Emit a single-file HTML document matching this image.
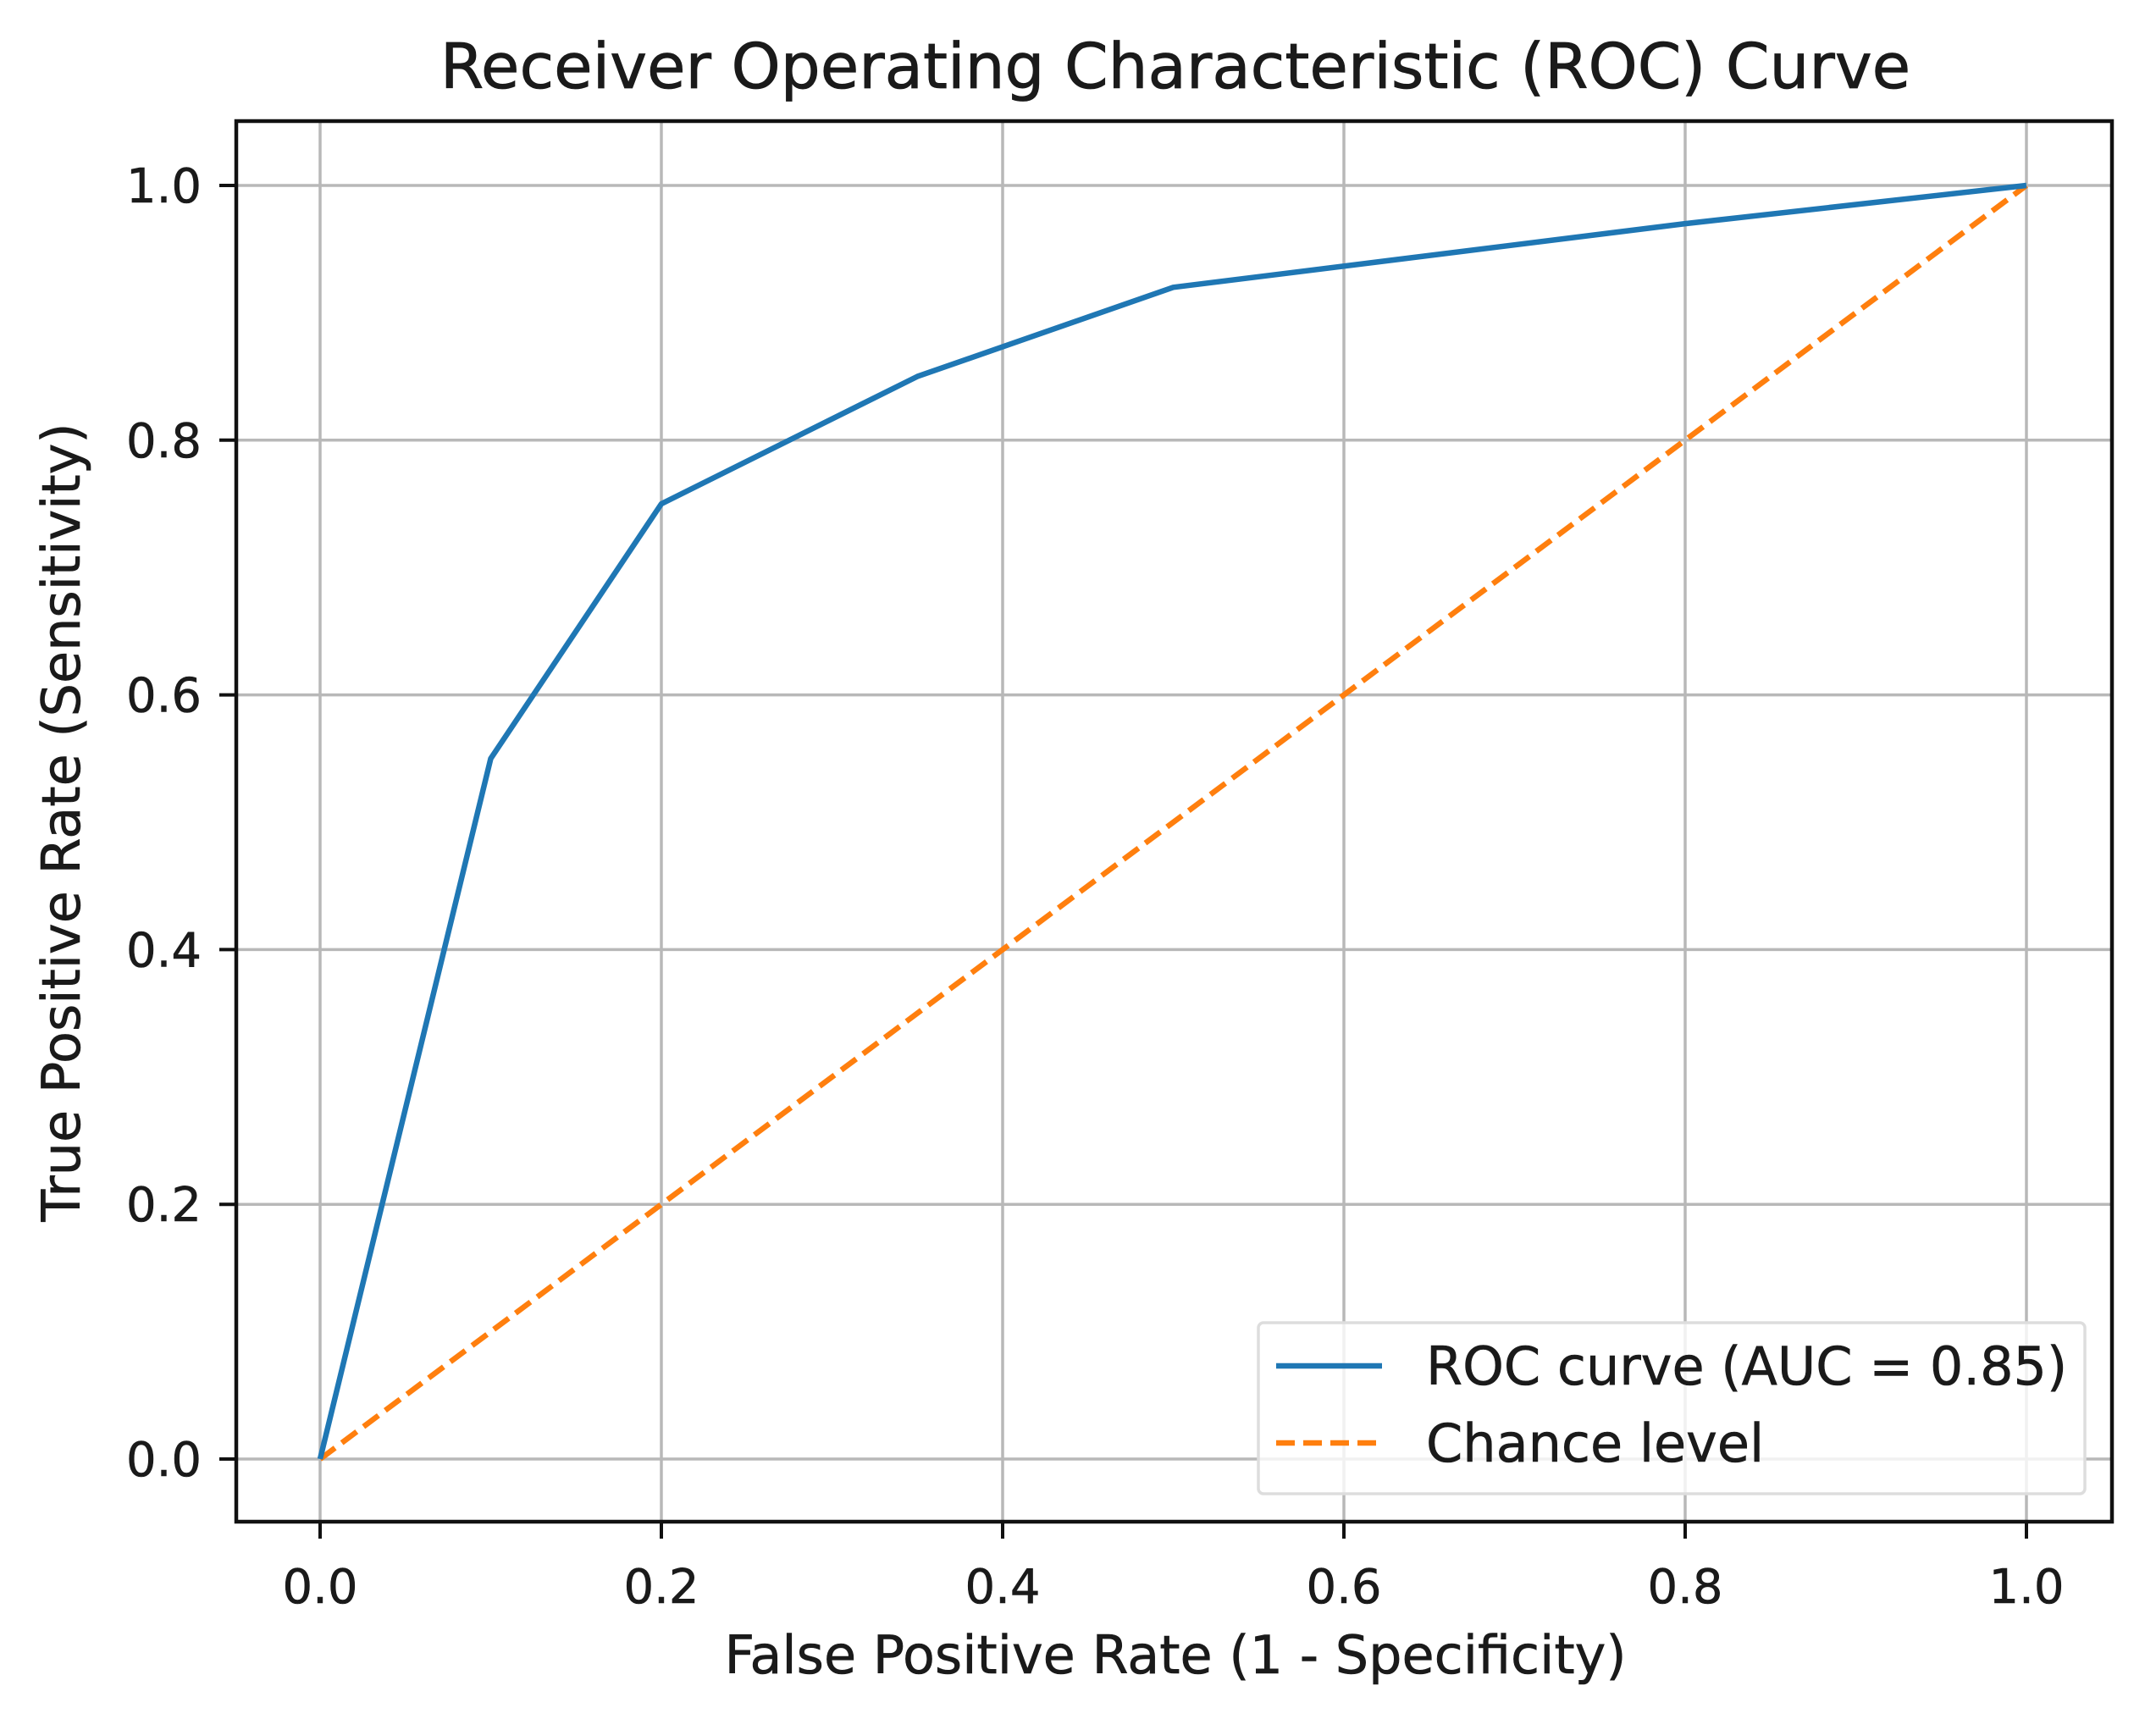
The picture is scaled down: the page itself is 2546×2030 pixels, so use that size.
<!DOCTYPE html>
<html><head><meta charset="utf-8"><style>
html,body{margin:0;padding:0;background:#fff;}
svg{display:block;font-family:"DejaVu Sans","Liberation Sans",sans-serif;}
</style></head><body>
<svg id="chart" width="2546" height="2030" viewBox="0 0 2546 2030" xmlns="http://www.w3.org/2000/svg">
<rect x="0" y="0" width="2546" height="2030" fill="#fff"/>
<text x="1388" y="104" font-size="74" text-anchor="middle" fill="#1a1a1a" stroke="#1a1a1a" stroke-width="0.8">Receiver Operating Characteristic (ROC) Curve</text>
<g id="grid"></g>
<g id="series"></g>
<rect x="279" y="143" width="2215" height="1654" fill="none" stroke="#111" stroke-width="4.5"/>
<g id="ticks"></g>
<text x="1388" y="1976" font-size="62" text-anchor="middle" fill="#1a1a1a" stroke="#1a1a1a" stroke-width="0.6">False Positive Rate (1 - Specificity)</text>
<text x="0" y="0" font-size="62" text-anchor="middle" fill="#1a1a1a" stroke="#1a1a1a" stroke-width="0.6" transform="translate(94,971) rotate(-90)">True Positive Rate (Sensitivity)</text>
<g>
<rect x="1486" y="1562" width="976" height="202" rx="6" fill="#fff" fill-opacity="0.8" stroke="#ddd" stroke-width="3.5"/>
<line x1="1507" y1="1613" x2="1632" y2="1613" stroke="#1f77b4" stroke-width="6.5"/>
<text x="1684" y="1635" font-size="62" fill="#1a1a1a" stroke="#1a1a1a" stroke-width="0.6">ROC curve (AUC = 0.85)</text>
<line x1="1507" y1="1704" x2="1632" y2="1704" stroke="#ff7f0e" stroke-width="6.5" stroke-dasharray="22,10"/>
<text x="1684" y="1726" font-size="62" fill="#1a1a1a" stroke="#1a1a1a" stroke-width="0.6">Chance level</text>
</g>
</svg>
<script>
const fprValues = [0, 0.1, 0.2, 0.35, 0.5, 0.8, 1.0];
const tprValues = [0, 0.55, 0.75, 0.85, 0.92, 0.97, 1.0];
const chanceX = [0, 1];
const chanceY = [0, 1];
const xTicks = [0, 0.2, 0.4, 0.6, 0.8, 1.0];
const yTicks = [0, 0.2, 0.4, 0.6, 0.8, 1.0];
const xTickLabels = ["0.0","0.2","0.4","0.6","0.8","1.0"];
const yTickLabels = ["0.0","0.2","0.4","0.6","0.8","1.0"];

const NS = "http://www.w3.org/2000/svg";
const X0 = 378, X1 = 2393, Y0 = 1723, Y1 = 219;
const PL = 279, PR = 2494, PT = 143, PB = 1797;
function sx(v){ return X0 + v * (X1 - X0); }
function sy(v){ return Y0 - v * (Y0 - Y1); }
function mk(tag, attrs, parent){
  const e = document.createElementNS(NS, tag);
  for (const k in attrs) e.setAttribute(k, attrs[k]);
  parent.appendChild(e); return e;
}
const grid = document.getElementById('grid');
const ticks = document.getElementById('ticks');
const series = document.getElementById('series');

xTicks.forEach((v, i) => {
  const g = mk('line', {x1: sx(v), x2: sx(v), y1: PT, y2: PB, stroke: '#b8b8b8', 'stroke-width': 3.5}, grid);
  
  
  const t = mk('line', {x1: sx(v), x2: sx(v), y1: PB, y2: PB + 20, stroke: '#111', 'stroke-width': 4}, ticks);
  
  
  const l = mk('text', {x: sx(v), y: 1893, 'font-size': 56, 'text-anchor': 'middle', fill: '#1a1a1a', stroke: '#1a1a1a', 'stroke-width': 0.6}, ticks);
  l.textContent = xTickLabels[i];
  
  
});
yTicks.forEach((v, i) => {
  const g = mk('line', {x1: PL, x2: PR, y1: sy(v), y2: sy(v), stroke: '#b8b8b8', 'stroke-width': 3.5}, grid);
  
  
  const t = mk('line', {x1: PL - 20, x2: PL, y1: sy(v), y2: sy(v), stroke: '#111', 'stroke-width': 4}, ticks);
  
  
  const l = mk('text', {x: 238, y: sy(v) + 20, 'font-size': 56, 'text-anchor': 'end', fill: '#1a1a1a', stroke: '#1a1a1a', 'stroke-width': 0.6}, ticks);
  l.textContent = yTickLabels[i];
  
  
});

const chance = mk('polyline', {points: chanceX.map((x, i) => sx(x) + ',' + sy(chanceY[i])).join(' '), fill: 'none', stroke: '#ff7f0e', 'stroke-width': 6.5, 'stroke-dasharray': '22,10'}, series);


const roc = mk('polyline', {points: fprValues.map((x, i) => sx(x) + ',' + sy(tprValues[i])).join(' '), fill: 'none', stroke: '#1f77b4', 'stroke-width': 6.5, 'stroke-linejoin': 'round'}, series);


</script>
</body></html>
